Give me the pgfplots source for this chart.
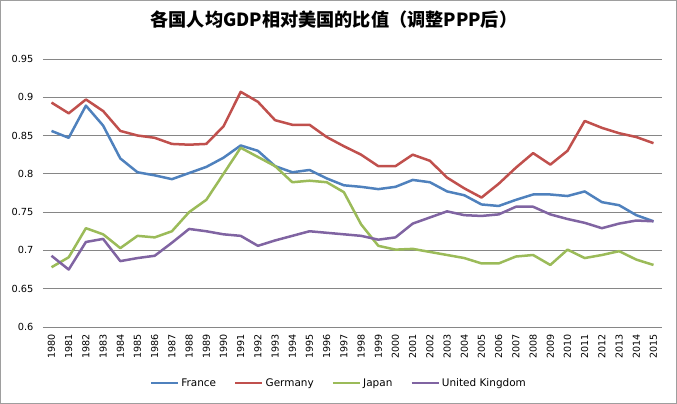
\documentclass[border=0pt]{standalone}
\usepackage{fontspec}
\setmainfont{DejaVu Sans}
\newfontfamily\cjk{Noto Sans CJK SC}
\usepackage{pgfplots}
\pgfplotsset{compat=1.18}

\definecolor{cFrance}{HTML}{4F81BD}
\definecolor{cGermany}{HTML}{C0504D}
\definecolor{cJapan}{HTML}{9BBB59}
\definecolor{cUK}{HTML}{8064A2}
\definecolor{gridgray}{HTML}{868686}

\begin{document}
\begin{tikzpicture}
  % chart frame, as in the Excel export
  \draw[color=gridgray!80, line width=0.8bp] (-42.5bp,-76.5bp) rectangle (633.5bp,326.5bp);
  \begin{axis}[
      scale only axis,
      width=619bp, height=268bp,
      xmin=1979.5, xmax=2015.5,
      ymin=0.6, ymax=0.95,
      xtick={1980,1981,...,2015},
      ytick={0.6,0.65,0.7,0.75,0.8,0.85,0.9,0.95},
      ymajorgrids,
      major grid style={color=gridgray, line width=0.8bp},
      axis line style={draw=none},
      major tick length=0pt,
      /pgf/number format/assume math mode=true,
      /pgf/number format/1000 sep={},
      yticklabel style={font=\fontsize{9.8}{11}\selectfont, xshift=-6bp,
        /pgf/number format/fixed, /pgf/number format/precision=2},
      xticklabel style={font=\fontsize{9.6}{10}\selectfont, rotate=90, anchor=east, xshift=-4bp},
      title={\cjk\bfseries 各国人均GDP相对美国的比值（调整PPP后）},
      title style={at={(0.47,1)}, anchor=center, yshift=33bp, font=\fontsize{18.2}{20}\selectfont},
      legend style={at={(0.478,-0.209)}, anchor=center, draw=none,
        legend columns=-1, font=\fontsize{10.5}{12}\selectfont,
        /tikz/every even column/.append style={column sep=16bp}},
      legend image code/.code={\draw[#1] (0bp,0bp) -- (27bp,0bp);},
      every axis plot/.append style={line width=2.5bp, line join=round},
    ]
    \addplot[color=cFrance, no markers] coordinates {
      (1980,0.856) (1981,0.847) (1982,0.889) (1983,0.863) (1984,0.820)
      (1985,0.802) (1986,0.798) (1987,0.793) (1988,0.801) (1989,0.809)
      (1990,0.821) (1991,0.837) (1992,0.830) (1993,0.810) (1994,0.802)
      (1995,0.805) (1996,0.794) (1997,0.785) (1998,0.783) (1999,0.780)
      (2000,0.783) (2001,0.792) (2002,0.789) (2003,0.777) (2004,0.772)
      (2005,0.760) (2006,0.758) (2007,0.766) (2008,0.773) (2009,0.773)
      (2010,0.771) (2011,0.777) (2012,0.763) (2013,0.759) (2014,0.746)
      (2015,0.738)
    };
    \addplot[color=cGermany, no markers] coordinates {
      (1980,0.893) (1981,0.879) (1982,0.897) (1983,0.882) (1984,0.856)
      (1985,0.850) (1986,0.847) (1987,0.839) (1988,0.838) (1989,0.839)
      (1990,0.862) (1991,0.907) (1992,0.894) (1993,0.870) (1994,0.864)
      (1995,0.864) (1996,0.848) (1997,0.836) (1998,0.825) (1999,0.810)
      (2000,0.810) (2001,0.825) (2002,0.817) (2003,0.795) (2004,0.781)
      (2005,0.769) (2006,0.787) (2007,0.808) (2008,0.827) (2009,0.812)
      (2010,0.830) (2011,0.869) (2012,0.860) (2013,0.853) (2014,0.848)
      (2015,0.840)
    };
    \addplot[color=cJapan, no markers] coordinates {
      (1980,0.678) (1981,0.691) (1982,0.729) (1983,0.721) (1984,0.703)
      (1985,0.719) (1986,0.717) (1987,0.725) (1988,0.750) (1989,0.766)
      (1990,0.800) (1991,0.834) (1992,0.822) (1993,0.810) (1994,0.789)
      (1995,0.791) (1996,0.789) (1997,0.776) (1998,0.734) (1999,0.706)
      (2000,0.701) (2001,0.702) (2002,0.698) (2003,0.694) (2004,0.690)
      (2005,0.683) (2006,0.683) (2007,0.692) (2008,0.694) (2009,0.681)
      (2010,0.701) (2011,0.690) (2012,0.694) (2013,0.699) (2014,0.688)
      (2015,0.681)
    };
    \addplot[color=cUK, no markers] coordinates {
      (1980,0.693) (1981,0.675) (1982,0.711) (1983,0.715) (1984,0.686)
      (1985,0.690) (1986,0.693) (1987,0.710) (1988,0.728) (1989,0.725)
      (1990,0.721) (1991,0.719) (1992,0.706) (1993,0.713) (1994,0.719)
      (1995,0.725) (1996,0.723) (1997,0.721) (1998,0.719) (1999,0.714)
      (2000,0.717) (2001,0.735) (2002,0.743) (2003,0.751) (2004,0.746)
      (2005,0.745) (2006,0.747) (2007,0.757) (2008,0.757) (2009,0.747)
      (2010,0.741) (2011,0.736) (2012,0.729) (2013,0.735) (2014,0.739)
      (2015,0.738)
    };
    \legend{France, Germany, Japan, United Kingdom}
  \end{axis}
\end{tikzpicture}
\end{document}
